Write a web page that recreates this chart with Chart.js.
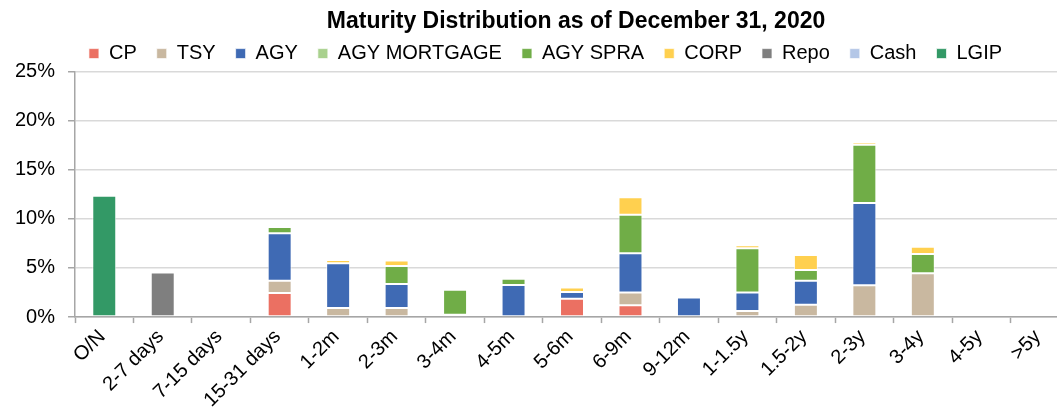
<!DOCTYPE html>
<html>
<head>
<meta charset="utf-8">
<title>Maturity Distribution</title>
<script src="https://cdn.jsdelivr.net/npm/chart.js@4/dist/chart.umd.min.js"></script>
<style>
  html, body { margin: 0; padding: 0; overflow: hidden; background: #fff; }
  #wrap { width: 1092px; height: 415px; position: relative; }
</style>
</head>
<body>
<div id="wrap"><canvas id="maturityChart"></canvas></div>
<script>
const categories = ['O/N', '2-7 days', '7-15 days', '15-31 days', '1-2m', '2-3m', '3-4m', '4-5m', '5-6m',
  '6-9m', '9-12m', '1-1.5y', '1.5-2y', '2-3y', '3-4y', '4-5y', '>5y'];

// percent of portfolio per bucket
const cp          = [0, 0, 0, 2.46, 0, 0, 0, 0, 1.86, 1.21, 0, 0, 0, 0, 0, 0, 0];
const tsy         = [0, 0, 0, 1.25, 0.91, 0.91, 0, 0, 0, 1.29, 0, 0.61, 1.25, 3.24, 4.45, 0, 0];
const agy         = [0, 0, 0, 4.82, 4.56, 2.46, 0.23, 3.27, 0.70, 4.01, 1.99, 1.89, 2.46, 8.37, 0, 0, 0];
const agyMortgage = [0, 0, 0, 0, 0, 0, 0, 0, 0, 0, 0, 0, 0, 0, 0, 0, 0];
const agySpra     = [0, 0, 0, 0.65, 0, 1.82, 2.54, 0.64, 0, 3.92, 0, 4.52, 1.08, 5.93, 1.96, 0, 0];
const corp        = [0, 0, 0, 0, 0.33, 0.58, 0, 0, 0.44, 1.78, 0, 0.30, 1.52, 0.27, 0.74, 0, 0];
const repo        = [0, 4.55, 0, 0, 0, 0, 0, 0, 0, 0, 0, 0, 0, 0, 0, 0, 0];
const cash        = [0, 0, 0, 0, 0, 0, 0, 0, 0, 0, 0, 0, 0, 0, 0, 0, 0];
const lgip        = [12.35, 0, 0, 0, 0, 0, 0, 0, 0, 0, 0, 0, 0, 0, 0, 0, 0];

const yTicks = [0, 5, 10, 15, 20, 25];

const fontFamily = "'Liberation Sans', Arial, sans-serif";

const serie = (label, data, color) => ({
  label: label,
  data: data,
  backgroundColor: color,
  borderColor: 'rgba(255, 255, 255, 0.7)',
  borderWidth: 1,
  borderSkipped: false,
  barPercentage: 0.41,
  categoryPercentage: 1
});

// nudge title and legend a few px without moving the plot
const headerNudge = {
  id: 'headerNudge',
  afterLayout: (chart) => {
    chart.legend.top += 2;
    chart.legend.bottom += 2;
    chart.legend.left += 10;
    chart.legend.right += 10;
    chart.titleBlock.left += 4;
    chart.titleBlock.right += 4;
  }
};

const ctx = document.getElementById('maturityChart').getContext('2d');
const config = {
  type: 'bar',
  data: {
    labels: categories,
    datasets: [
      serie('CP', cp, '#EB7062'),
      serie('TSY', tsy, '#C9B8A0'),
      serie('AGY', agy, '#3F6AB4'),
      serie('AGY MORTGAGE', agyMortgage, '#A9D18E'),
      serie('AGY SPRA', agySpra, '#70AD47'),
      serie('CORP', corp, '#FFD04F'),
      serie('Repo', repo, '#7F7F7F'),
      serie('Cash', cash, '#B4C7E7'),
      serie('LGIP', lgip, '#339966')
    ]
  },
  options: {
    responsive: true,
    maintainAspectRatio: false,
    animation: false,
    layout: { padding: { left: 2, right: 23, top: 0, bottom: 1 } },
    scales: {
      x: {
        stacked: true,
        // the first rotated label should not push the plot to the right
        afterFit: (axis) => { axis.paddingLeft = 0; axis.paddingRight = 0; },
        grid: {
          offset: true,
          drawOnChartArea: false,
          drawTicks: true,
          tickLength: 6,
          tickColor: '#A6A6A6',
          tickWidth: 1.5
        },
        border: { color: '#A6A6A6', width: 1.5 },
        ticks: {
          minRotation: 45,
          maxRotation: 45,
          autoSkip: false,
          padding: 2,
          labelOffset: -2,
          color: '#000',
          font: { family: fontFamily, size: 20 }
        }
      },
      y: {
        stacked: true,
        min: 0,
        max: 25,
        afterBuildTicks: (axis) => { axis.ticks = yTicks.map(v => ({ value: v })); },
        grid: {
          color: '#D9D9D9',
          lineWidth: 1.5,
          tickLength: 7,
          tickColor: '#A6A6A6'
        },
        border: { color: '#A6A6A6', width: 1.5 },
        ticks: {
          padding: 13,
          color: '#000',
          font: { family: fontFamily, size: 20 },
          callback: (v) => v + '%'
        }
      }
    },
    plugins: {
      title: {
        display: true,
        text: 'Maturity Distribution as of December 31, 2020',
        fullSize: false,
        color: '#000',
        font: { family: fontFamily, size: 23, weight: 'bold' },
        padding: { top: 8, bottom: -14 }
      },
      legend: {
        display: true,
        position: 'top',
        labels: {
          boxWidth: 10,
          boxHeight: 10,
          padding: 20,
          color: '#000',
          font: { family: fontFamily, size: 20 }
        }
      },
      tooltip: { enabled: false }
    }
  },
  plugins: [headerNudge]
};
var maturityChart = new Chart(ctx, config);
</script>
</body>
</html>
